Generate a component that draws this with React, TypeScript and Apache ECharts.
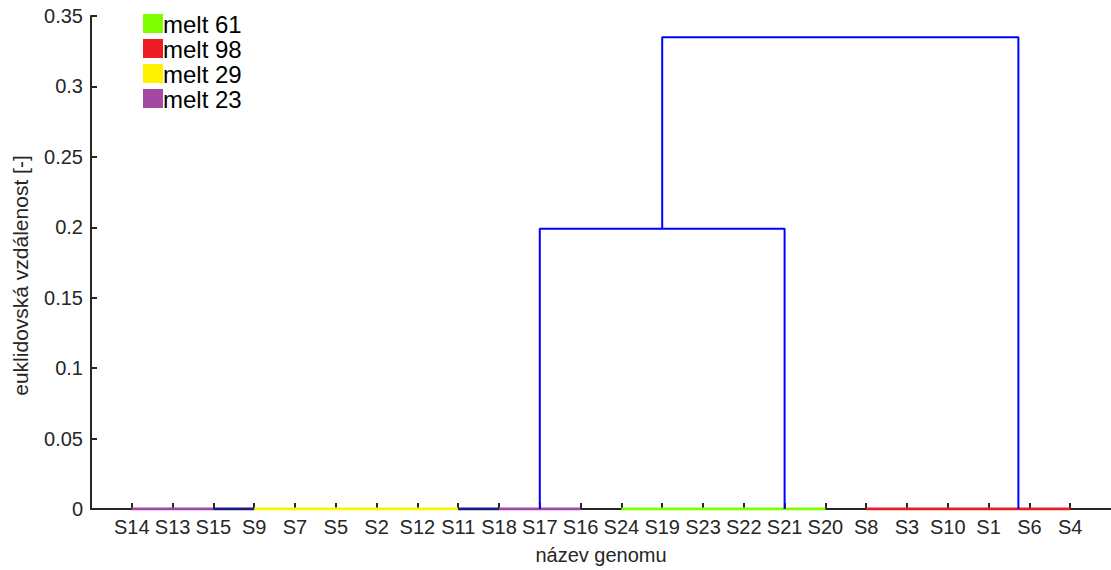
import React, { useEffect, useRef } from "react";
import * as echarts from "echarts";

// leaf order along the x axis (positions 1..24)
const leaves = [
  "S14", "S13", "S15", "S9", "S7", "S5", "S2", "S12", "S11", "S18", "S17", "S16",
  "S24", "S19", "S23", "S22", "S21", "S20", "S8", "S3", "S10", "S1", "S6", "S4",
];
const yTicks = [0, 0.05, 0.1, 0.15, 0.2, 0.25, 0.3, 0.35];

// legend groups
const groupNames = ["melt 61", "melt 98", "melt 29", "melt 23"];
const groupColors = ["#80ff00", "#ed1c24", "#fff200", "#a349a4"];

// zero-height links (leaf positions) and their group ("" = uncoloured link)
const zeroStart = [1, 3, 4, 9, 10, 13, 19];
const zeroEnd = [3, 4, 9, 10, 12, 18, 24];
const zeroGroup = ["melt 23", "", "melt 29", "", "melt 23", "melt 61", "melt 98"];

// upper links: left x, left base, right x, right base, merge height
const linkLeftX = [11, 14];
const linkLeftBase = [0, 0.199];
const linkRightX = [17, 22.73];
const linkRightBase = [0, 0];
const linkHeight = [0.199, 0.335];

const FONT = "'Liberation Sans', Arial, sans-serif";
const AXIS = "#262626";

export default function App() {
  const ref = useRef<HTMLDivElement>(null);
  useEffect(() => {
    if (!ref.current) return;
    const chart = echarts.init(ref.current, null, { renderer: "svg" });
    const series: any[] = [];
    zeroStart.forEach((s, i) => {
      const g = zeroGroup[i];
      const color = g ? groupColors[groupNames.indexOf(g)] : "#1c1c80";
      series.push({
        type: "line",
        name: g || "link" + i,
        data: [[s, 0], [zeroEnd[i], 0]],
        showSymbol: false,
        symbol: "none",
        itemStyle: { color },
        lineStyle: { color, width: 3 },
        z: 3,
        silent: true,
      });
    });
    linkLeftX.forEach((x, i) => {
      series.push({
        type: "line",
        name: "up" + i,
        data: [
          [x, linkLeftBase[i]],
          [x, linkHeight[i]],
          [linkRightX[i], linkHeight[i]],
          [linkRightX[i], linkRightBase[i]],
        ],
        showSymbol: false,
        symbol: "none",
        itemStyle: { color: "#0000ff" },
        lineStyle: { color: "#0000ff", width: 2 },
        z: 4,
        silent: true,
      });
    });
    const legendGraphics: any[] = [];
    groupNames.forEach((name, i) => {
      legendGraphics.push({
        type: "rect",
        x: 143,
        y: 14 + i * 25,
        shape: { x: 0, y: 0, width: 20, height: 19 },
        style: { fill: groupColors[i] },
      });
      legendGraphics.push({
        type: "text",
        x: 163,
        y: 24 + i * 25,
        style: {
          text: name,
          fontFamily: FONT,
          fontSize: 24,
          fill: "#000000",
          verticalAlign: "middle",
          align: "left",
        },
      });
    });
    chart.setOption({
      animation: false,
      backgroundColor: "#ffffff",
      textStyle: { fontFamily: FONT },
      grid: { left: 91, top: 16, width: 1022, height: 498, containLabel: false },
      graphic: legendGraphics,
      xAxis: {
        type: "value",
        min: 0,
        max: leaves.length + 1,
        interval: 1,
        name: "název genomu",
        nameLocation: "middle",
        nameGap: 36,
        nameTextStyle: { fontFamily: FONT, fontSize: 20, color: AXIS },
        axisLine: { show: true, onZero: false, lineStyle: { color: AXIS, width: 2 } },
        axisTick: {
          show: true,
          inside: true,
          length: 6,
          lineStyle: { color: AXIS, width: 2 },
          customValues: leaves.map((_, i) => i + 1),
        },
        axisLabel: {
          fontFamily: FONT,
          fontSize: 20,
          color: AXIS,
          margin: 8,
          customValues: leaves.map((_, i) => i + 1),
          formatter: (v: number) => leaves[v - 1] ?? "",
        },
        splitLine: { show: false },
      },
      yAxis: {
        type: "value",
        min: 0,
        max: yTicks[yTicks.length - 1],
        interval: 0.05,
        name: "euklidovská vzdálenost [-]",
        nameLocation: "middle",
        nameGap: 60,
        nameTextStyle: { fontFamily: FONT, fontSize: 21, color: AXIS, padding: [0, 26, 0, 0] },
        axisLine: { show: true, lineStyle: { color: AXIS, width: 2 } },
        axisTick: { show: true, inside: true, length: 6, lineStyle: { color: AXIS, width: 2 } },
        axisLabel: {
          fontFamily: FONT,
          fontSize: 20,
          color: AXIS,
          margin: 8,
          formatter: (v: number) => String(Math.round(v * 100) / 100),
        },
        splitLine: { show: false },
      },
      series,
    });
    return () => chart.dispose();
  }, []);
  return (
    <div
      ref={ref}
      style={{ position: "fixed", left: 0, top: 0, width: 1111, height: 570, background: "#fff" }}
    />
  );
}
